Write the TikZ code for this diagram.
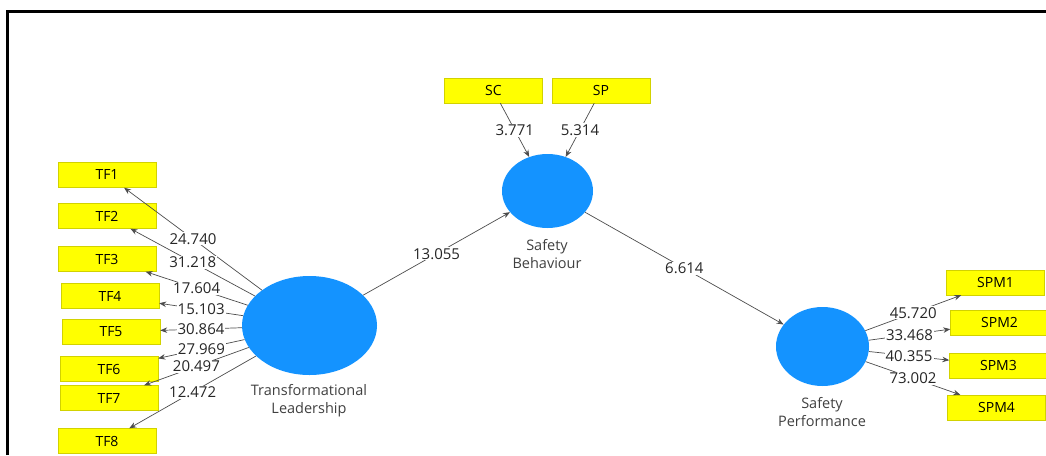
\documentclass[tikz,border=0pt]{standalone}
\usepackage{fontspec}
\setmainfont{Open Sans}
\usetikzlibrary{shapes.geometric,arrows.meta}
\definecolor{lvblue}{HTML}{1493FF}
\definecolor{indyel}{HTML}{FFFF00}
\definecolor{indedge}{HTML}{D2D200}
\tikzset{
  ind/.style={rectangle,draw=indedge,fill=indyel,minimum width=98pt,minimum height=25pt,inner sep=0pt,font=\fontsize{14}{16}\selectfont},
  lv/.style={ellipse,fill=lvblue,inner sep=0pt},
  lvname/.style={align=center,text=black!75,font=\fontsize{14.5}{18}\selectfont},
  pth/.style={draw=black!70,line width=0.7pt,-{Stealth[length=7pt,width=5.5pt]}},
  coef/.style={fill=white,inner sep=1pt,text=black!85,font=\fontsize{15}{16}\selectfont}
}
\begin{document}
\begin{tikzpicture}[x=1pt,y=-1pt]
                \useasboundingbox (0,0) rectangle (1046,455);
                \draw[line width=2.5pt] (7.5,455) -- (7.5,11.5) -- (1046,11.5);
                % latent variables
                \node[lv,minimum width=135pt,minimum height=99pt] (trl) at (309.5,325.5) {};
                \node[lv,minimum width=91pt,minimum height=74pt] (sbh) at (547.5,191) {};
                \node[lv,minimum width=93pt,minimum height=79pt] (spf) at (822.5,346.5) {};
                \node[lvname] at (309,401) {Transformational\\Leadership};
                \node[lvname] at (547,254) {Safety\\Behaviour};
                \node[lvname] at (822,412) {Safety\\Performance};
                % indicators
                \foreach \i/\x/\y in {1/107/175,2/107/216,3/107/259,4/110/296,5/111/332,6/109/369,7/109/398,8/107/441}
                {
                    \node[ind] (tf\i) at (\x,\y) {TF\i};
                }
                \node[ind] (sc) at (493.5,90.5) {SC};
                \node[ind] (spc) at (601,90.5) {SP};
                \foreach \i/\x/\y in {1/995.5/282.5,2/999.5/322.5,3/998.5/365.5,4/996.5/407.5}
                {
                    \node[ind] (spm\i) at (\x,\y) {SPM\i};
                }
                % outer loadings
                \foreach \i/\v in {1/24.740,2/31.218,3/17.604,4/15.103,5/30.864,6/27.969,7/20.497,8/12.472}
                {
                    \draw[pth] (trl) -- node[coef] {\v} (tf\i);
                }
                \foreach \i/\v in {1/45.720,2/33.468,3/40.355,4/73.002}
                {
                    \draw[pth] (spf) -- node[coef] {\v} (spm\i);
                }
                \draw[pth] (sc) -- node[coef] {3.771} (sbh);
                \draw[pth] (spc) -- node[coef] {5.314} (sbh);
                % inner model
                \draw[pth] (trl) -- node[coef] {13.055} (sbh);
                \draw[pth] (sbh) -- node[coef] {6.614} (spf);
            \end{tikzpicture}
\end{document}
